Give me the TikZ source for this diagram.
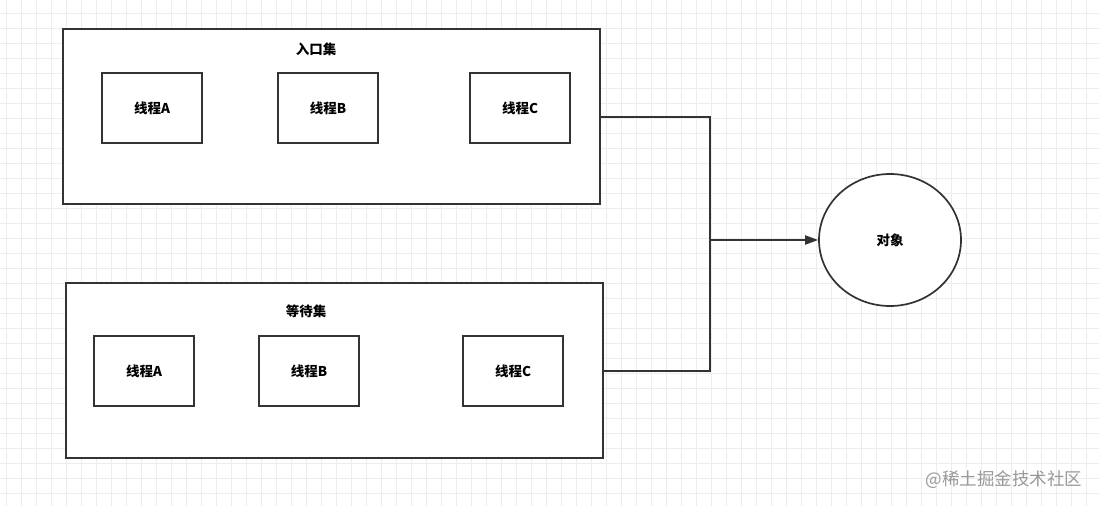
\documentclass[tikz,border=0pt]{standalone}
\usepackage{fontspec}
\setmainfont{Noto Sans CJK SC}
\usetikzlibrary{arrows.meta, shapes.geometric}

\begin{document}
\begin{tikzpicture}[
    x=1pt, y=-1pt,
    >={Triangle[length=13pt,width=9pt]},
    font=\fontsize{13.5}{15}\selectfont\bfseries,
    gridline/.style={draw=black!7, line width=0.6pt},
    setbox/.style={draw=black!80, line width=2pt, fill=white,
                   minimum width=537pt, minimum height=175pt, inner sep=0pt},
    thread/.style={draw=black!80, line width=2pt, fill=white,
                   minimum width=100pt, minimum height=70pt, inner sep=0pt},
    object/.style={ellipse, draw=black!80, line width=1.7pt, fill=white,
                   minimum width=142pt, minimum height=132pt, inner sep=0pt},
    link/.style={draw=black!80, line width=2pt},
]
\useasboundingbox (0,0) rectangle (1099,506);
\fill[white] (0,0) rectangle (1099,506);

% background grid
\foreach \i in {0,...,72}
    \draw[gridline] ({6.7+15*\i},0) -- ++(0,506);
\foreach \j in {0,...,33}
    \draw[gridline] (0,{13.3+15*\j}) -- ++(1099,0);

% entry set
\node[setbox]  (entry)   at (331.5,116.5) {};
\node          (entrylb) at (316,49)      {入口集};
\node[thread]  (ea)      at (152,108)     {线程A};
\node[thread]  (eb)      at (328,108)     {线程B};
\node[thread]  (ec)      at (520,108)     {线程C};

% wait set
\node[setbox]  (wait)    at (334.5,370.5) {};
\node          (waitlb)  at (306,311)     {等待集};
\node[thread]  (wa)      at (144,371)     {线程A};
\node[thread]  (wb)      at (309,371)     {线程B};
\node[thread]  (wc)      at (513,371)     {线程C};

% monitor object
\node[object]  (obj)     at (890,240)     {对象};
\coordinate    (join)    at (710,240);

\draw[link] (entry.east) -| (join);
\draw[link] (wait.east)  -| (join);
\draw[link, ->] (join) -- (obj);

\node[font=\fontsize{17.5}{19}\selectfont, text=black!40, anchor=east]
    (mark) at (1086,480) {@稀土掘金技术社区};
\end{tikzpicture}
\end{document}
